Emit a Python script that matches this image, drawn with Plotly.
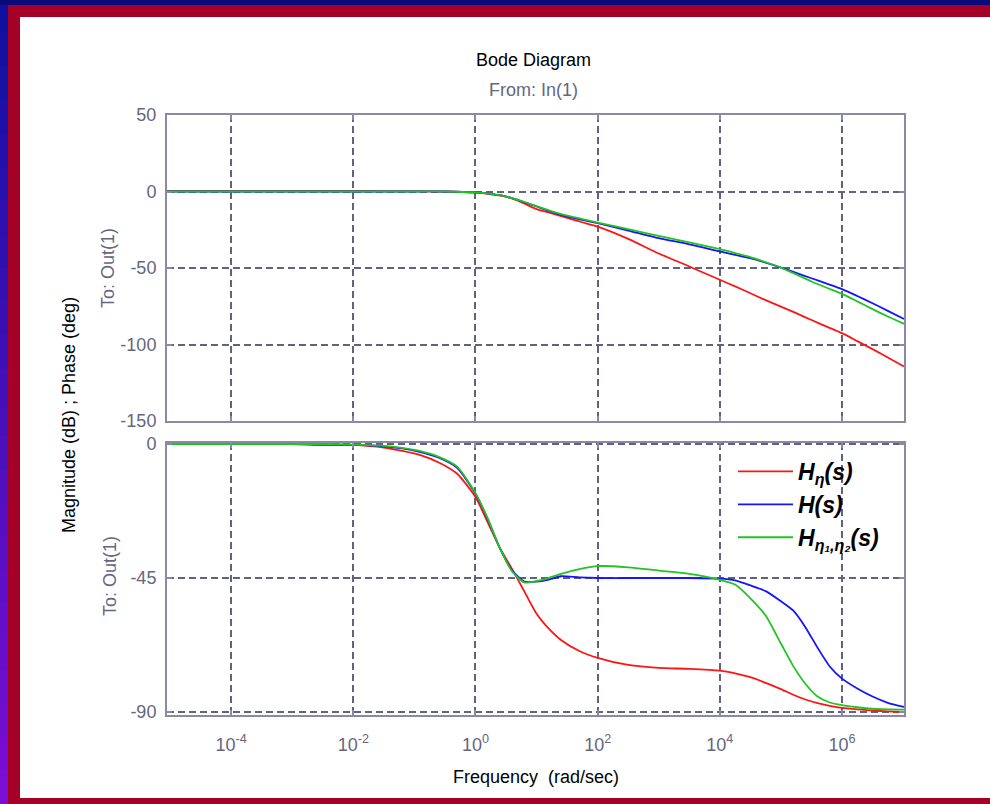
import plotly.graph_objects as go

# ---------------- data ----------------
# log10 of frequency (rad/sec)
mag_logw = [-5.05, -3, -2, -1.5, -1, -0.5, 0, 0.25, 0.5, 0.75, 1, 1.25, 1.5, 1.75, 2,
            2.5, 3, 3.5, 4, 4.25, 4.5, 4.75, 5, 5.25, 5.5, 5.75, 6, 6.25, 6.5, 6.75, 7.015]
mag_red = [0.4, 0.4, 0.4, 0.3, 0.2, 0, -0.8, -1.8, -3.3, -7.0, -11.5, -14.3, -17.2, -20.1, -23.0,
           -31.0, -40.5, -49.0, -57.7, -62.0, -66.5, -71.0, -75.2, -79.5, -84.0, -88.3, -92.6,
           -97.8, -103.0, -108.5, -114.4]
mag_blue = [0, 0, 0, 0, 0, 0, -0.6, -1.6, -3.3, -6.3, -9.8, -13.3, -16.3, -18.5, -20.7,
            -25.5, -30.5, -34.5, -39.2, -41.4, -43.6, -46.5, -49.7, -53.2, -56.7, -60.2, -63.8,
            -68.3, -73.0, -78.0, -83.3]
mag_green = [0, 0, 0, 0, 0, 0, -0.6, -1.6, -3.3, -6.2, -9.6, -13.0, -15.8, -18.0, -20.3,
             -24.6, -29.0, -33.3, -37.7, -40.2, -42.9, -46.2, -49.7, -54.2, -58.8, -62.9, -66.9,
             -71.8, -76.9, -81.7, -86.5]

ph_logw = [-5.05, -3, -2.5, -2, -1.5, -1.2, -0.9, -0.6, -0.3, 0, 0.2, 0.4, 0.6, 0.8, 1.0, 1.2,
           1.4, 1.7, 2.0, 2.5, 3.0, 3.5, 4.0, 4.25, 4.5, 4.75, 5.0, 5.2, 5.4, 5.6, 5.8, 6.0,
           6.25, 6.5, 6.75, 7.015]
ph_red = [0, 0, -0.1, -0.3, -1.2, -2.3, -3.7, -6.2, -10.0, -17.8, -26.3, -35.0, -42.0, -49.5,
          -57.0, -62.0, -65.8, -69.5, -71.8, -74.2, -75.2, -75.5, -76.1, -77.0, -78.3, -80.2,
          -82.3, -84.2, -85.8, -87.0, -87.9, -88.6, -89.1, -89.5, -89.8, -90.0]
ph_blue = [0, 0, -0.3, -0.3, -0.8, -1.5, -2.7, -4.6, -8.0, -16.7, -25.2, -35.0, -42.5, -46.2,
           -46.2, -45.5, -44.4, -44.8, -45.0, -45.0, -45.0, -45.0, -45.2, -45.8, -47.5, -49.4,
           -52.8, -55.9, -61.5, -68.4, -74.7, -78.8, -82.1, -84.8, -86.9, -88.3]
ph_green = [0, 0, 0, -0.2, -0.6, -1.3, -2.4, -4.3, -7.6, -16.5, -25.0, -35.0, -42.8, -46.5,
            -46.0, -45.0, -43.6, -42.0, -41.0, -41.4, -42.5, -43.6, -45.6, -47.2, -51.8, -57.6,
            -67.0, -74.5, -80.5, -84.8, -86.8, -87.7, -88.4, -88.9, -89.1, -89.2]

series_names = ["<b><i>H<sub>η</sub>(s)</i></b>",
                "<b><i>H(s)</i></b>",
                "<b><i>H<sub>η₁,η₂</sub>(s)</i></b>"]
series_colors = ["#ff1414", "#1414ff", "#22c422"]

x_tickvals = [1e-4, 1e-2, 1e0, 1e2, 1e4, 1e6]
x_ticktext = ["10<sup>-4</sup>", "10<sup>-2</sup>", "10<sup>0</sup>",
              "10<sup>2</sup>", "10<sup>4</sup>", "10<sup>6</sup>"]
mag_ticks = [-150, -100, -50, 0, 50]
mag_ticktext = ["-150", "-100", "-50", "0", "50"]
ph_ticks = [-90, -45, 0]
ph_ticktext = ["-90", "-45", "0"]

# ---------------- figure ----------------
W, H = 990, 804
FONT = "Liberation Sans, Arial, sans-serif"
AXC = "#8a8aa6"
GRIDC = "#62627e"
TXTC = "#66667e"

mw = [10 ** v for v in mag_logw]
pw = [10 ** v for v in ph_logw]

fig = go.Figure()
for name, col, m in zip(series_names, series_colors, [mag_red, mag_blue, mag_green]):
    fig.add_trace(go.Scatter(x=mw, y=m, mode="lines", xaxis="x", yaxis="y",
                             line=dict(color=col, width=1.8, shape="spline", smoothing=0.6),
                             showlegend=False, hoverinfo="skip"))
for name, col, p in zip(series_names, series_colors, [ph_red, ph_blue, ph_green]):
    fig.add_trace(go.Scatter(x=pw, y=p, mode="lines", name=name, xaxis="x2", yaxis="y2",
                             line=dict(color=col, width=1.8, shape="spline", smoothing=0.6),
                             showlegend=True, hoverinfo="skip"))


def px_x(v):
    return v / W


def px_y(v):
    return 1 - v / H


xdom = [px_x(167), px_x(904)]
common_x = dict(type="log", range=[-5.05, 7.015], domain=xdom, tickvals=x_tickvals,
                ticks="inside", ticklen=5, tickcolor=AXC, tickwidth=1.5,
                showline=True, linecolor=AXC, linewidth=2, mirror="ticks",
                showgrid=True, gridcolor=GRIDC, gridwidth=1.5, griddash="7px,4px",
                zeroline=False)
common_y = dict(ticks="inside", ticklen=5, tickcolor=AXC, tickwidth=1.5,
                showline=True, linecolor=AXC, linewidth=2, mirror="ticks",
                showgrid=True, gridcolor=GRIDC, gridwidth=1.5, griddash="7px,4px",
                zeroline=False, tickfont=dict(family=FONT, size=18, color=TXTC),
                ticklabelstandoff=5)

fig.update_layout(
    width=W, height=H, autosize=False,
    margin=dict(l=0, r=0, t=0, b=0, pad=0, autoexpand=False),
    paper_bgcolor="white", plot_bgcolor="white",
    xaxis=dict(**common_x, anchor="y", showticklabels=False),
    yaxis=dict(**common_y, anchor="x", range=[-150, 50], tickvals=mag_ticks,
               ticktext=mag_ticktext, domain=[px_y(421), px_y(115)]),
    xaxis2=dict(**common_x, anchor="y2", ticktext=x_ticktext,
                tickfont=dict(family=FONT, size=18, color=TXTC), ticklabelstandoff=12),
    yaxis2=dict(**common_y, anchor="x2", range=[-91, 0.34], tickvals=ph_ticks,
                ticktext=ph_ticktext, domain=[px_y(715), px_y(443)]),
    legend=dict(x=px_x(733), y=px_y(450), xanchor="left", yanchor="top",
                bgcolor="rgba(0,0,0,0)", borderwidth=0, itemwidth=55,
                font=dict(family=FONT, size=23, color="black"),
                tracegroupgap=0),
    showlegend=True,
)

# ---------------- frame decoration ----------------
shapes = []
n_seg = 24
c0 = (16, 16, 160)
c1 = (122, 14, 210)
for i in range(n_seg):
    t = i / (n_seg - 1)
    c = tuple(int(round(c0[k] + (c1[k] - c0[k]) * t)) for k in range(3))
    y_top = H * i / n_seg
    y_bot = min(H, H * (i + 1) / n_seg + 2)
    shapes.append(dict(type="rect", xref="paper", yref="paper", layer="above",
                       x0=0, x1=px_x(8.5), y0=px_y(y_bot), y1=px_y(y_top),
                       fillcolor="rgb(%d,%d,%d)" % c, line=dict(width=0)))
shapes.append(dict(type="rect", xref="paper", yref="paper", layer="above",
                   x0=0, x1=1, y0=px_y(5), y1=1, fillcolor="#0a0a7a", line=dict(width=0)))
RED = "#a50026"
shapes.append(dict(type="rect", xref="paper", yref="paper", layer="above",
                   x0=px_x(8), x1=px_x(20), y0=0, y1=px_y(5), fillcolor=RED, line=dict(width=0)))
shapes.append(dict(type="rect", xref="paper", yref="paper", layer="above",
                   x0=px_x(8), x1=1, y0=px_y(17), y1=px_y(5), fillcolor=RED, line=dict(width=0)))
shapes.append(dict(type="rect", xref="paper", yref="paper", layer="above",
                   x0=px_x(8), x1=1, y0=0, y1=px_y(798), fillcolor=RED, line=dict(width=0)))
fig.update_layout(shapes=shapes)

# ---------------- texts ----------------
ann = [
    dict(text="Bode Diagram", x=px_x(533), y=px_y(60), font=dict(family=FONT, size=18, color="black")),
    dict(text="From: In(1)", x=px_x(533), y=px_y(90), font=dict(family=FONT, size=18, color=TXTC)),
    dict(text="Frequency  (rad/sec)", x=px_x(536), y=px_y(777), font=dict(family=FONT, size=18, color="black")),
    dict(text="Magnitude (dB) ; Phase (deg)", x=px_x(69), y=px_y(415), textangle=-90,
         font=dict(family=FONT, size=18, color="black")),
    dict(text="To: Out(1)", x=px_x(108), y=px_y(268), textangle=-90,
         font=dict(family=FONT, size=18, color=TXTC)),
    dict(text="To: Out(1)", x=px_x(110), y=px_y(576), textangle=-90,
         font=dict(family=FONT, size=18, color=TXTC)),
]
for a in ann:
    a.update(xref="paper", yref="paper", showarrow=False, xanchor="center", yanchor="middle")
fig.update_layout(annotations=ann)

fig.write_html("out.html", config={"displayModeBar": False})
